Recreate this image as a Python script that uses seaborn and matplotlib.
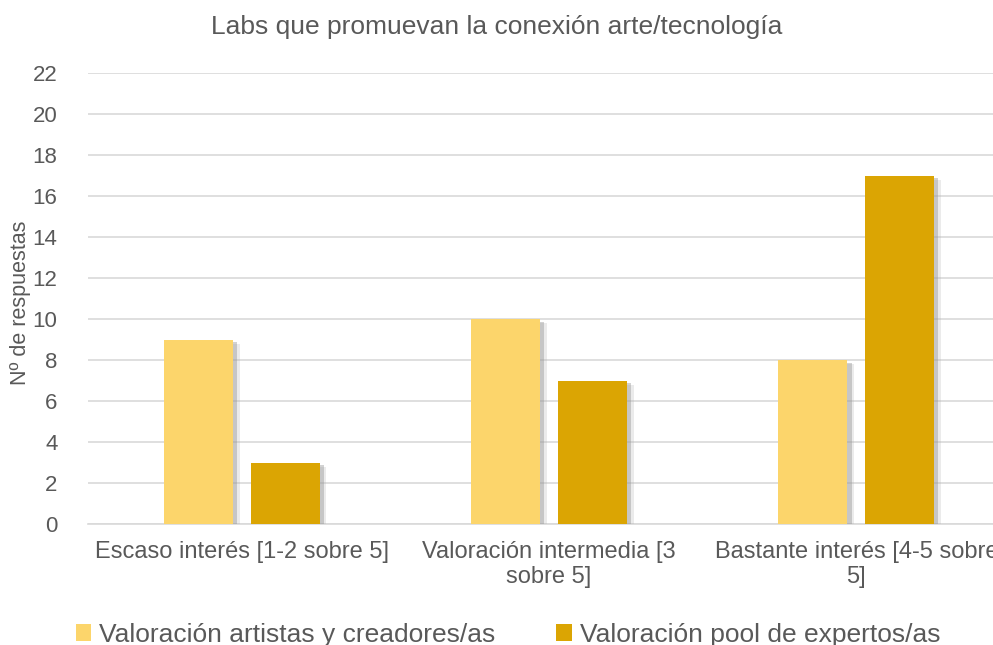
import matplotlib
matplotlib.use("Agg")
import matplotlib.pyplot as plt
import matplotlib.patheffects as pe
from matplotlib.patches import Patch
import pandas as pd
import seaborn as sns

# -- Datos
categorias = ["Escaso interés [1-2 sobre 5]",
              "Valoración intermedia [3\nsobre 5]",
              "Bastante interés [4-5 sobre\n5]"]
series = ["Valoración artistas y creadores/as", "Valoración pool de expertos/as"]
artistas = [9, 10, 8]
expertos = [3, 7, 17]
colores = ["#FCD56B", "#DBA503"]

df = pd.DataFrame({
    "categoria": categorias * 2,
    "serie": [series[0]] * 3 + [series[1]] * 3,
    "valor": artistas + expertos,
})

sns.set_theme(style="white")
plt.rcParams["font.family"] = ["Liberation Sans", "DejaVu Sans"]
gris = "#595959"

fig = plt.figure(figsize=(9.93, 6.45), dpi=100)
ax = fig.add_axes([88 / 993, 121 / 645, 922 / 993, 451 / 645])

sns.barplot(data=df, x="categoria", y="valor", hue="serie", palette=colores,
            saturation=1, width=0.565, gap=0.207, linewidth=0,
            ax=ax, legend=False, zorder=3)

# -- Sombra suave a la derecha/abajo
for bar in ax.patches:
    bar.set_path_effects([
        pe.SimplePatchShadow(offset=(5, -3), shadow_rgbFace="#B0B0B0", alpha=0.25),
        pe.SimplePatchShadow(offset=(3, -2), shadow_rgbFace="#909090", alpha=0.4),
        pe.Normal()])

ax.set_ylim(0, 22)
ax.set_yticks(range(0, 23, 2))
ax.set_xlim(-0.5, 2.5)
ax.yaxis.grid(True, color="#D9D9D9", linewidth=1.2, zorder=0)
ax.set_axisbelow(True)
for s in ["top", "right", "left"]:
    ax.spines[s].set_visible(False)
ax.spines["bottom"].set_color("#D9D9D9")
ax.spines["bottom"].set_linewidth(1.2)
ax.tick_params(axis="both", colors=gris, length=0)
ax.tick_params(axis="y", labelsize=16, pad=22)
ax.tick_params(axis="x", labelsize=17, pad=12)
ax.set_xlabel("")
ax.set_ylabel("Nº de respuestas", color=gris, fontsize=15.5, va="center")
ax.yaxis.set_label_coords(-0.0727, 0.49)

fig.suptitle("Labs que promuevan la conexión arte/tecnología", color=gris,
             fontsize=19, y=1 - 27 / 645, va="center")

handles = [Patch(facecolor=c, edgecolor="none") for c in colores]
fig.legend(handles, series, loc="center", bbox_to_anchor=(508 / 993, 10 / 645), ncol=2,
           frameon=False, fontsize=19, labelcolor=gris, handlelength=0.6, handleheight=0.6,
           handletextpad=0.3, columnspacing=2.3)

fig.savefig("out.png", dpi=100)
